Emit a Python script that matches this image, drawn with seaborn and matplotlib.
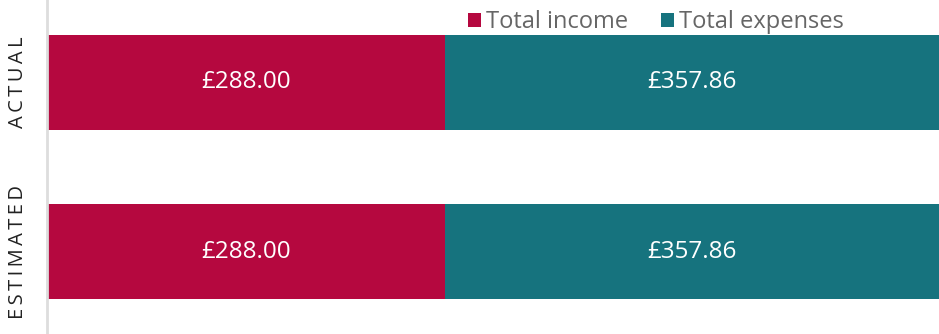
import matplotlib
matplotlib.use("Agg")
import matplotlib.pyplot as plt
import seaborn as sns
import pandas as pd
from matplotlib.patches import Patch

categories = ["ACTUAL", "ESTIMATED"]
income = [288.00, 288.00]
expenses = [357.86, 357.86]
series_names = ["Total income", "Total expenses"]
colors = ["#B5083F", "#16737E"]

sns.set_theme(style="white")
plt.rcParams["font.family"] = ["Open Sans", "DejaVu Sans"]

df = pd.DataFrame({"category": categories, "income": income, "expenses": expenses})
df["total"] = df["income"] + df["expenses"]

fig = plt.figure(figsize=(9.39, 3.34), dpi=100)
ax = fig.add_axes([47 / 939, 0, 892 / 939, 1])

bar_h = 0.56
sns.barplot(data=df, y="category", x="total", color=colors[1], orient="h",
            width=bar_h, ax=ax, saturation=1, errorbar=None, linewidth=0)
sns.barplot(data=df, y="category", x="income", color=colors[0], orient="h",
            width=bar_h, ax=ax, saturation=1, errorbar=None, linewidth=0)

for i, row in df.iterrows():
    ax.text(row["income"] / 2, i, f"£{row['income']:.2f}", color="white",
            ha="center", va="center", fontsize=17.5)
    ax.text(row["income"] + row["expenses"] / 2, i, f"£{row['expenses']:.2f}",
            color="white", ha="center", va="center", fontsize=17.5)

ax.set_xlim(0, float(df["total"].max()))
ax.set_ylim(1.485, -0.485)
ax.set_xlabel("")
ax.set_ylabel("")
ax.set_xticks([])
ax.set_yticks(range(len(categories)))
ax.set_yticklabels(["\u2009".join(c) for c in categories], rotation=90,
                   va="center", fontsize=14.5, color="#222222")
ax.tick_params(axis="y", length=0, pad=14)
for s in ["top", "right", "bottom"]:
    ax.spines[s].set_visible(False)
ax.spines["left"].set_color("#DDDDDD")
ax.spines["left"].set_linewidth(2)

handles = [Patch(facecolor=c, edgecolor="none") for c in colors]
leg = ax.legend(handles, series_names, loc="upper right", ncol=2, frameon=False,
                bbox_to_anchor=(0.917, 1.033), fontsize=17, handlelength=0.55,
                handleheight=0.55, handletextpad=0.2, columnspacing=1.4)
for t in leg.get_texts():
    t.set_color("#666666")

fig.savefig("out.png", dpi=100)
